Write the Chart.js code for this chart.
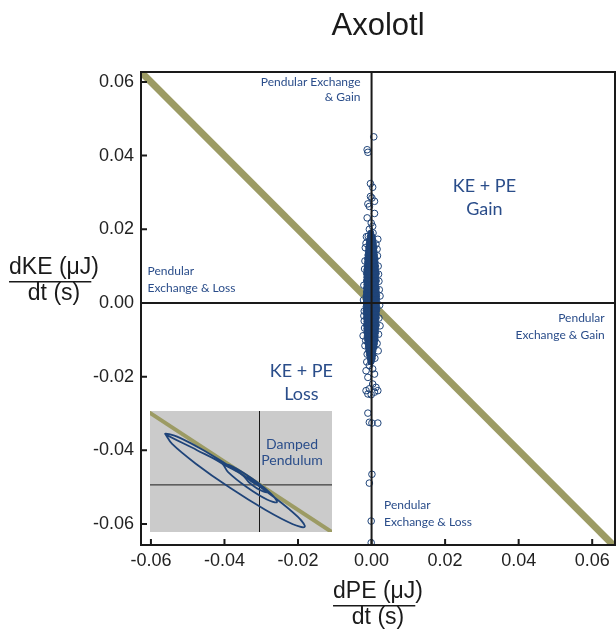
<!DOCTYPE html>
<html>
<head>
<meta charset="utf-8">
<script src="https://cdn.jsdelivr.net/npm/chart.js@4/dist/chart.umd.min.js"></script>
<style>
  body { margin: 0; background: #fff; }
  #wrap { position: relative; width: 616px; height: 629px; }
  #inset { position: absolute; left: 150px; top: 411px; }
</style>
</head>
<body>
<div id="wrap">
  <canvas id="main" width="616" height="629"></canvas>
  <canvas id="inset" width="182" height="121"></canvas>
</div>
<script>
//-----------------------------------------------------
// Axolotl energy exchange plot (dPE/dt vs dKE/dt)
//-----------------------------------------------------

const chartTitle = 'Axolotl';
const tickValues = [-0.06, -0.04, -0.02, 0, 0.02, 0.04, 0.06];
const xRange = [-0.0627, 0.0662];
const yRange = [-0.0657, 0.0627];

// dense core of the cloud: [dKE, [dPE values in that row]]
const coreRows = [
  [0.019, [-0.0002]],
  [0.018, [-0.0004, 0.0002]],
  [0.017, [-0.0006, 0.0000, 0.0004]],
  [0.016, [-0.0007, -0.0001, 0.0005]],
  [0.015, [-0.0008, -0.0002, 0.0004, 0.0007]],
  [0.014, [-0.0009, -0.0003, 0.0003, 0.0007]],
  [0.013, [-0.0010, -0.0004, 0.0002, 0.0008]],
  [0.012, [-0.0011, -0.0005, 0.0001, 0.0007, 0.0010]],
  [0.011, [-0.0011, -0.0005, 0.0001, 0.0007, 0.0010]],
  [0.010, [-0.0012, -0.0006, 0.0000, 0.0006, 0.0011]],
  [0.009, [-0.0013, -0.0007, -0.0001, 0.0005, 0.0011]],
  [0.008, [-0.0014, -0.0008, -0.0002, 0.0004, 0.0010, 0.0013]],
  [0.007, [-0.0013, -0.0007, -0.0001, 0.0005, 0.0011]],
  [0.006, [-0.0014, -0.0008, -0.0002, 0.0004, 0.0010, 0.0013]],
  [0.005, [-0.0013, -0.0007, -0.0001, 0.0005, 0.0011]],
  [0.004, [-0.0014, -0.0008, -0.0002, 0.0004, 0.0010, 0.0013]],
  [0.003, [-0.0014, -0.0008, -0.0002, 0.0004, 0.0010, 0.0013]],
  [0.002, [-0.0015, -0.0009, -0.0003, 0.0003, 0.0009, 0.0014]],
  [0.001, [-0.0015, -0.0009, -0.0003, 0.0003, 0.0009, 0.0014]],
  [0.000, [-0.0015, -0.0009, -0.0003, 0.0003, 0.0009, 0.0014]],
  [-0.001, [-0.0015, -0.0009, -0.0003, 0.0003, 0.0009, 0.0014]],
  [-0.002, [-0.0015, -0.0009, -0.0003, 0.0003, 0.0009, 0.0014]],
  [-0.003, [-0.0014, -0.0008, -0.0002, 0.0004, 0.0010, 0.0013]],
  [-0.004, [-0.0014, -0.0008, -0.0002, 0.0004, 0.0010, 0.0013]],
  [-0.005, [-0.0013, -0.0007, -0.0001, 0.0005, 0.0011]],
  [-0.006, [-0.0014, -0.0008, -0.0002, 0.0004, 0.0010, 0.0013]],
  [-0.007, [-0.0013, -0.0007, -0.0001, 0.0005, 0.0011]],
  [-0.008, [-0.0013, -0.0007, -0.0001, 0.0005, 0.0011]],
  [-0.009, [-0.0012, -0.0006, 0.0000, 0.0006, 0.0010]],
  [-0.010, [-0.0011, -0.0005, 0.0001, 0.0007, 0.0010]],
  [-0.011, [-0.0010, -0.0004, 0.0002, 0.0008]],
  [-0.012, [-0.0009, -0.0003, 0.0003, 0.0007]],
  [-0.013, [-0.0008, -0.0002, 0.0004]],
  [-0.014, [-0.0006, 0.0000, 0.0004]],
  [-0.015, [-0.0004, 0.0002]],
  [-0.016, [-0.0002]]
];

// scattered strides around and outside the core: [dPE, dKE]
const outerPoints = [
  [0.0006, 0.0451], [-0.0012, 0.0416], [-0.0010, 0.0409],
  [-0.0003, 0.0324], [0.0003, 0.0314], [-0.0003, 0.0289], [0.0001, 0.0285],
  [-0.0010, 0.0269], [0.0008, 0.0276], [-0.0006, 0.0262],
  [-0.0012, 0.0231], [0.0008, 0.0243], [-0.0001, 0.0217], [0.0003, 0.0208],
  [-0.0006, 0.0200], [-0.0009, 0.0181], [0.0004, 0.0190],
  [-0.0015, 0.0162], [0.0017, 0.0173], [0.0015, 0.0146], [-0.0018, 0.0114],
  [0.0018, 0.0100], [0.0020, 0.0059], [0.0023, 0.0019], [-0.0020, -0.0022],
  [-0.0020, -0.0049], [0.0023, -0.0062], [-0.0023, -0.0089], [-0.0018, -0.0116],
  [0.0018, -0.0130], [-0.0012, -0.0139], [-0.0001, -0.0157], [-0.0006, -0.0170],
  [0.0003, -0.0179], [-0.0015, -0.0184], [0.0008, -0.0193], [-0.0010, -0.0202],
  [0.0003, -0.0220], [0.0012, -0.0229], [-0.0006, -0.0233], [-0.0015, -0.0238],
  [0.0017, -0.0238], [0.0008, -0.0242], [-0.0010, -0.0247], [-0.0001, -0.0249],
  [-0.0010, -0.0299], [-0.0006, -0.0324], [0.0001, -0.0326], [0.0017, -0.0326],
  [0.0001, -0.0465], [-0.0006, -0.0489], [-0.0001, -0.0592], [-0.0001, -0.0651],
  [-0.0017, 0.0150], [0.0016, 0.0128], [-0.0019, 0.0092], [0.0019, 0.0078],
  [-0.0021, 0.0048], [0.0021, 0.0036], [-0.0022, 0.0008], [0.0022, -0.0006],
  [-0.0021, -0.0035], [0.0020, -0.0041], [-0.0019, -0.0068], [0.0019, -0.0085],
  [-0.0016, -0.0102], [0.0015, -0.0110], [0.0012, 0.0160], [-0.0014, 0.0180],
  [0.0009, -0.0150], [-0.0013, -0.0160]
];

// dKE/dt = -dPE/dt reference line
const exchangeLine = [[-0.07, 0.07], [0.07, -0.07]];

// quadrant notes: [lines, dPE, dKE, align, size, lineHeight]
const notes = [
  [['Pendular Exchange', '& Gain'], -0.0030, 0.0600, 'right', 12, 15],
  [['KE + PE', 'Gain'], 0.0307, 0.0316, 'center', 18, 23],
  [['Pendular', 'Exchange & Loss'], -0.0609, 0.0086, 'left', 12, 17],
  [['Pendular', 'Exchange & Gain'], 0.0634, -0.0041, 'right', 12, 17],
  [['KE + PE', 'Loss'], -0.0191, -0.0184, 'center', 18, 23],
  [['Pendular', 'Exchange & Loss'], 0.0034, -0.0549, 'left', 12, 17]
];

// inset: damped pendulum trajectory (inset units)
const pendulumPath = [
  [-93.7, 50.8], [-86.9, 40.8], [-63.2, 20.9], [-29, -3.5], [6.6, -25.9], [33.9, -40.2],
  [45.7, -42.8], [38.9, -32.8], [15.2, -12.9], [-19, 11.5], [-54.6, 33.9], [-81.9, 48.2],
  [-93.7, 50.8], [-62, 34.5], [-37, 21], [-30.9, 12.4], [-12.4, -2.6], [7.9, -15.2],
  [18, -18], [11.9, -9.4], [-6.6, 5.6], [-26.9, 18.2], [-37, 21], [-24, 14], [-16, 9],
  [-10, 2], [-2, -4], [8, -8], [4, -3], [-4, 3], [-12, 7], [-6, 2], [0, -1], [3, -2], [0, 0]
];
const insetLine = [[-112, 74], [75, -49.5]];
const insetRange = { x: [-109, 73], y: [-48, 74] };
const insetNote = ['Damped', 'Pendulum'];

const blue = '#1f4479';
const noteBlue = '#2a4d8a';
const olive = '#9c9b64';
const ink = '#1a1a1a';

const core = [];
coreRows.forEach(r => r[1].forEach(v => core.push({ x: v, y: r[0] })));
const scatter = outerPoints.map(p => ({ x: p[0], y: p[1] }));

function drawFraction(ctx, top, bottom, cx, baseY) {
  ctx.font = '23px "Liberation Sans", Arial, sans-serif';
  ctx.fillStyle = ink;
  ctx.textAlign = 'center';
  ctx.textBaseline = 'alphabetic';
  const w = ctx.measureText(top).width;
  ctx.fillText(top, cx, baseY);
  ctx.fillText(bottom, cx, baseY + 26);
  ctx.fillRect(cx - w / 2, baseY + 7, ctx.measureText(top.slice(0, -1)).width, 1.5);
}

const framePlugin = {
  id: 'frame',
  afterDatasetsDraw(chart) {
    const { ctx, chartArea: a } = chart;
    const x = chart.scales.x, y = chart.scales.y;
    ctx.save();
    ctx.strokeStyle = ink;
    ctx.lineWidth = 2;
    const x0 = x.getPixelForValue(0), y0 = y.getPixelForValue(0);
    ctx.beginPath();
    ctx.moveTo(x0, a.top); ctx.lineTo(x0, a.bottom);
    ctx.moveTo(a.left, y0); ctx.lineTo(a.right, y0);
    ctx.stroke();
    ctx.strokeRect(a.left, a.top, a.right - a.left, a.bottom - a.top);
    ctx.beginPath();
    x.ticks.forEach(t => {
      const p = x.getPixelForValue(t.value);
      ctx.moveTo(p, a.bottom); ctx.lineTo(p, a.bottom - 6);
    });
    y.ticks.forEach(t => {
      const p = y.getPixelForValue(t.value);
      ctx.moveTo(a.left, p); ctx.lineTo(a.left + 6, p);
    });
    ctx.stroke();

    // quadrant notes
    ctx.fillStyle = noteBlue;
    ctx.textBaseline = 'middle';
    notes.forEach(n => {
      ctx.font = n[4] + 'px Lato, "Open Sans", sans-serif';
      ctx.textAlign = n[3];
      const px = x.getPixelForValue(n[1]);
      const py = y.getPixelForValue(n[2]);
      n[0].forEach((line, i) => ctx.fillText(line, px, py + i * n[5]));
    });
    ctx.restore();
  },
  afterDraw(chart) {
    const { ctx, chartArea: a } = chart;
    ctx.save();
    ctx.font = '31px "Liberation Sans", Arial, sans-serif';
    ctx.fillStyle = ink;
    ctx.textAlign = 'center';
    ctx.textBaseline = 'middle';
    ctx.fillText(chartTitle, (a.left + a.right) / 2, 26);
    drawFraction(ctx, 'dKE (\u03bcJ)', 'dt (s)', 54, 274);
    drawFraction(ctx, 'dPE (\u03bcJ)', 'dt (s)', (a.left + a.right) / 2, 598);
    ctx.restore();
  }
};

const tickFmt = v => (Math.abs(v) < 1e-9 ? '0.00' : v.toFixed(2));

new Chart(document.getElementById('main'), {
  type: 'scatter',
  data: {
    datasets: [
      {
        data: scatter,
        pointRadius: 3.3,
        pointBorderWidth: 1,
        pointBorderColor: blue,
        pointBackgroundColor: 'rgba(0,0,0,0)',
        order: 1
      },
      {
        data: core,
        pointRadius: 3,
        pointBorderWidth: 1,
        pointBorderColor: blue,
        pointBackgroundColor: blue,
        order: 2
      },
      {
        data: exchangeLine.map(p => ({ x: p[0], y: p[1] })),
        showLine: true,
        borderColor: olive,
        borderWidth: 7,
        pointRadius: 0,
        clip: 0,
        order: 3
      }
    ]
  },
  options: {
    responsive: false,
    animation: false,
    layout: { autoPadding: false, padding: { left: 0, right: 1, top: 72, bottom: 0 } },
    plugins: { legend: { display: false }, tooltip: { enabled: false } },
    scales: {
      x: {
        type: 'linear',
        min: xRange[0],
        max: xRange[1],
        afterBuildTicks: s => { s.ticks = tickValues.map(v => ({ value: v })); },
        afterFit: s => { s.height = 84; s.paddingLeft = 0; s.paddingRight = 0; },
        grid: { display: false, drawTicks: false },
        border: { display: false },
        ticks: {
          padding: 5,
          maxRotation: 0,
          autoSkip: false,
          color: '#222',
          font: { family: '"Liberation Sans", Arial, sans-serif', size: 18 },
          callback: tickFmt
        }
      },
      y: {
        type: 'linear',
        min: yRange[0],
        max: yRange[1],
        afterBuildTicks: s => { s.ticks = tickValues.map(v => ({ value: v })); },
        afterFit: s => { s.width = 141; s.paddingTop = 0; s.paddingBottom = 0; },
        grid: { display: false, drawTicks: false },
        border: { display: false },
        ticks: {
          padding: 7,
          autoSkip: false,
          color: '#222',
          font: { family: '"Liberation Sans", Arial, sans-serif', size: 18 },
          callback: tickFmt
        }
      }
    }
  },
  plugins: [framePlugin]
});

const insetPlugin = {
  id: 'insetDecor',
  beforeDatasetsDraw(chart) {
    const { ctx, chartArea: a } = chart;
    const x0 = chart.scales.x.getPixelForValue(0);
    const y0 = chart.scales.y.getPixelForValue(0);
    ctx.save();
    ctx.fillStyle = '#cbcbcb';
    ctx.fillRect(0, 0, chart.width, chart.height);
    ctx.strokeStyle = ink;
    ctx.lineWidth = 1;
    ctx.beginPath();
    ctx.moveTo(x0 + 0.5, a.top); ctx.lineTo(x0 + 0.5, a.bottom);
    ctx.moveTo(a.left, y0 + 0.5); ctx.lineTo(a.right, y0 + 0.5);
    ctx.stroke();
    ctx.fillStyle = noteBlue;
    ctx.font = '14px Lato, "Open Sans", sans-serif';
    ctx.textAlign = 'center';
    ctx.textBaseline = 'middle';
    const tx = chart.scales.x.getPixelForValue(33);
    insetNote.forEach((t, i) => ctx.fillText(t, tx, chart.scales.y.getPixelForValue(40 - i * 16)));
    ctx.restore();
  }
};

new Chart(document.getElementById('inset'), {
  type: 'scatter',
  data: {
    datasets: [
      {
        data: pendulumPath.map(p => ({ x: p[0], y: p[1] })),
        showLine: true,
        borderColor: blue,
        borderWidth: 1.8,
        tension: 0.35,
        pointRadius: 0,
        order: 1
      },
      {
        data: insetLine.map(p => ({ x: p[0], y: p[1] })),
        showLine: true,
        borderColor: olive,
        borderWidth: 4,
        pointRadius: 0,
        order: 2
      }
    ]
  },
  options: {
    responsive: false,
    animation: false,
    layout: { autoPadding: false, padding: 0 },
    plugins: { legend: { display: false }, tooltip: { enabled: false } },
    scales: {
      x: { type: 'linear', display: false, min: insetRange.x[0], max: insetRange.x[1] },
      y: { type: 'linear', display: false, min: insetRange.y[0], max: insetRange.y[1] }
    }
  },
  plugins: [insetPlugin]
});
</script>
</body>
</html>
